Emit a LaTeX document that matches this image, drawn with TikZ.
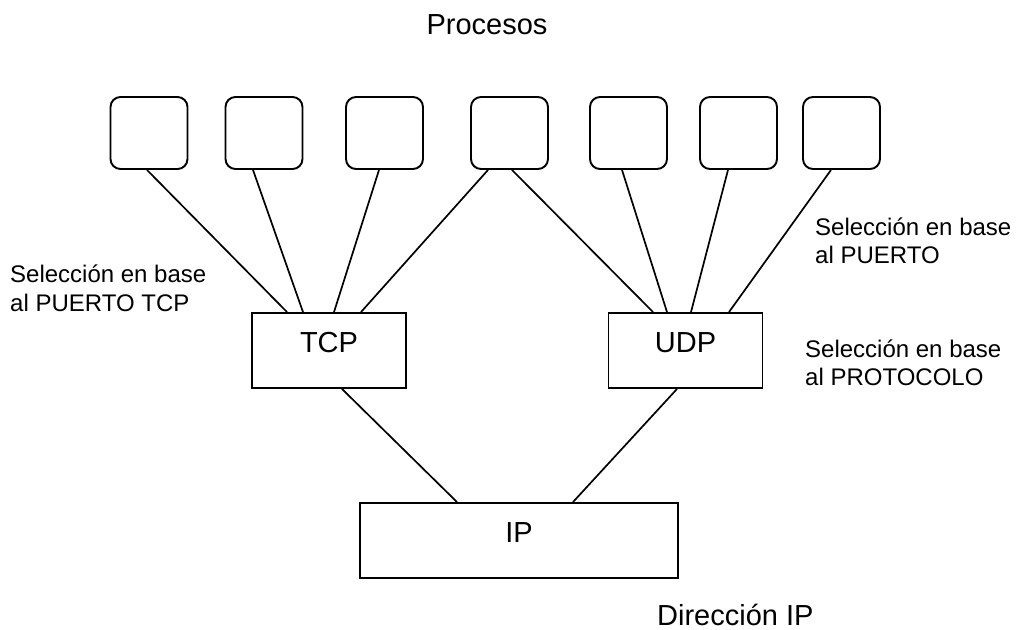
\documentclass[tikz,border=0pt]{standalone}
\usepackage{fontspec}
\setmainfont{Liberation Sans}
\begin{document}
\begin{tikzpicture}[x=1pt,y=-1pt,
  proc/.style={draw, line width=1.9pt, rounded corners=10pt, minimum width=77pt, minimum height=72pt, inner sep=0pt},
  layer/.style={draw, line width=1.9pt, inner sep=0pt},
  link/.style={line width=1.7pt},
  big/.style={font=\fontsize{29}{34}\selectfont, inner sep=0pt},
  note/.style={font=\fontsize{24}{28}\selectfont, inner sep=0pt, anchor=base west}]
\useasboundingbox (0,0) rectangle (1016,629);
% processes
\node[proc] (p1) at (149,133) {};
\node[proc] (p2) at (264,133) {};
\node[proc] (p3) at (384.5,133) {};
\node[proc] (p4) at (509.5,133) {};
\node[proc] (p5) at (628.5,133) {};
\node[proc] (p6) at (738.5,133) {};
\node[proc] (p7) at (841.5,133) {};
% layers
\node[layer, minimum width=154pt, minimum height=75pt] (tcp) at (329,350.5) {};
\node[layer, minimum width=154pt, minimum height=75pt] (udp) at (685.5,350.5) {};
\node[layer, minimum width=318pt, minimum height=75pt] (ip) at (519,540.5) {};
\node[big, anchor=base] (tcpl) at (329,352) {TCP};
\node[big, anchor=base] (udpl) at (685.5,352) {UDP};
\node[big, anchor=base] (ipl) at (519,542) {IP};
% connectors
\draw[link] ([xshift=-2pt]p1.south) -- ([xshift=-42pt]tcp.north);
\draw[link] ([xshift=-11pt]p2.south) -- ([xshift=-26pt]tcp.north);
\draw[link] ([xshift=-5.5pt]p3.south) -- ([xshift=5pt]tcp.north);
\draw[link] ([xshift=-21.5pt]p4.south) -- ([xshift=32pt]tcp.north);
\draw[link] ([xshift=2.5pt]p4.south) -- ([xshift=-32.5pt]udp.north);
\draw[link] ([xshift=-6.5pt]p5.south) -- ([xshift=-18.5pt]udp.north);
\draw[link] ([xshift=-10.5pt]p6.south) -- ([xshift=5.5pt]udp.north);
\draw[link] ([xshift=-10.5pt]p7.south) -- ([xshift=43.5pt]udp.north);
\draw[link] ([xshift=13pt]tcp.south) -- ([xshift=-62pt]ip.north);
\draw[link] ([xshift=-8.5pt]udp.south) -- ([xshift=54pt]ip.north);
% texts
\node[big, anchor=base] (procesos) at (487,34) {Procesos};
\node[big, anchor=base west] (dirip) at (657,625) {Dirección IP};
\node[note] (nl1) at (10,282) {Selección en base};
\node[note] (nl2) at (10,311) {al PUERTO TCP};
\node[note] (nr1) at (815,235) {Selección en base};
\node[note] (nr2) at (815,263) {al PUERTO};
\node[note] (np1) at (805,357) {Selección en base};
\node[note] (np2) at (805,385) {al PROTOCOLO};
\end{tikzpicture}
\end{document}
